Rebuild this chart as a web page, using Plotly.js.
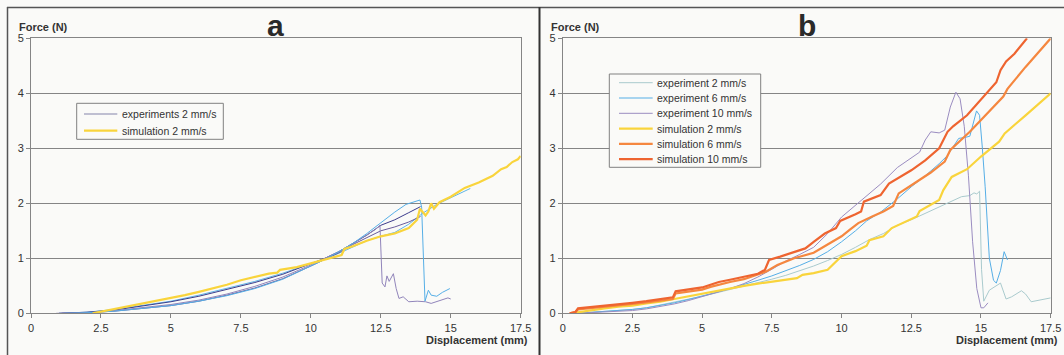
<!DOCTYPE html>
<html><head><meta charset="utf-8">
<script src="https://cdn.plot.ly/plotly-3.0.1.min.js"></script>
<style>html,body{margin:0;padding:0;background:#fafaf8;} #chart{width:1064px;height:355px;}</style>
</head><body><div id="chart"></div>
<script>
// ---------- tick labels ----------
const xTickVals = [0, 2.5, 5, 7.5, 10, 12.5, 15, 17.5];
const xTickText = ['0', '2.5', '5', '7.5', '10', '12.5', '15', '17.5'];
const yTickVals = [0, 1, 2, 3, 4, 5];
const yTickText = ['0', '1', '2', '3', '4', '5'];

const panelTitles = ['a', 'b'];
const yTitle = 'Force (N)';
const xTitle = 'Displacement (mm)';

// ---------- panel a ----------
const legendNamesA = ['experiments 2 mm/s', 'simulation 2 mm/s'];

const aExp1X = [1.2, 2.0, 3.0, 4.0, 5.0, 6.0, 7.0, 8.0, 9.0, 10.0, 10.5, 11.0, 11.5, 12.0, 12.5, 12.7, 13.0, 13.4, 13.7, 13.9, 13.96, 14.08, 14.2, 14.3, 14.5, 14.7, 14.97];
const aExp1Y = [0, 0.01, 0.04, 0.09, 0.14, 0.22, 0.32, 0.45, 0.62, 0.86, 0.98, 1.12, 1.27, 1.45, 1.65, 1.72, 1.84, 1.98, 2.02, 2.06, 1.93, 0.22, 0.42, 0.33, 0.31, 0.38, 0.45];

const aExp2X = [1.0, 2.0, 3.0, 4.0, 5.0, 6.0, 7.0, 8.0, 9.0, 10.0, 10.5, 11.0, 11.5, 12.0, 12.5, 13.0, 13.5, 14.0, 14.5, 15.0, 15.3, 15.7];
const aExp2Y = [0, 0.02, 0.07, 0.14, 0.22, 0.33, 0.45, 0.58, 0.73, 0.9, 0.99, 1.09, 1.2, 1.32, 1.4, 1.47, 1.62, 1.82, 1.98, 2.1, 2.16, 2.27];

const aExp3X = [0.9, 2.0, 3.0, 4.0, 5.0, 6.0, 7.0, 8.0, 9.0, 10.0, 10.5, 11.0, 11.5, 12.0, 12.3, 12.47, 12.55, 12.65, 12.72, 12.8, 12.95, 13.05, 13.15, 13.3, 13.5, 13.8, 14.1, 14.3, 14.6, 14.9, 15.0];
const aExp3Y = [0, 0.01, 0.05, 0.1, 0.16, 0.24, 0.35, 0.49, 0.66, 0.88, 1.0, 1.12, 1.27, 1.42, 1.52, 1.6, 0.55, 0.48, 0.68, 0.58, 0.72, 0.45, 0.27, 0.3, 0.21, 0.22, 0.21, 0.18, 0.23, 0.28, 0.26];

const aExp4X = [1.0, 2.0, 3.0, 4.0, 5.0, 6.0, 7.0, 8.0, 9.0, 10.0, 10.5, 11.0, 11.5, 12.0, 12.5, 13.0, 13.5, 13.92];
const aExp4Y = [0, 0.02, 0.06, 0.13, 0.21, 0.31, 0.43, 0.56, 0.71, 0.9, 1.0, 1.12, 1.27, 1.42, 1.6, 1.7, 1.83, 1.94];

const aExp5X = [1.1, 2.0, 3.0, 4.0, 5.0, 6.0, 7.0, 8.0, 9.0, 10.0, 10.5, 11.0, 11.5, 12.0, 12.5, 13.0, 13.5, 13.92];
const aExp5Y = [0, 0.01, 0.04, 0.09, 0.14, 0.22, 0.33, 0.46, 0.63, 0.86, 0.98, 1.1, 1.25, 1.38, 1.5, 1.57, 1.66, 1.76];

const aSimX = [2.2, 2.5, 3.0, 3.5, 4.0, 4.5, 5.0, 5.5, 6.0, 6.5, 7.0, 7.5, 8.0, 8.5, 8.8, 8.9, 9.5, 10.0, 10.5, 11.1, 11.2, 11.5, 12.0, 12.5, 13.0, 13.5, 13.8, 13.9, 14.1, 14.2, 14.3, 14.4, 14.6, 15.0, 15.5, 16.0, 16.5, 16.8, 17.0, 17.2, 17.4, 17.5];
const aSimY = [0, 0.03, 0.08, 0.13, 0.17, 0.22, 0.28, 0.33, 0.39, 0.45, 0.52, 0.6, 0.66, 0.72, 0.74, 0.79, 0.84, 0.91, 0.98, 1.06, 1.17, 1.22, 1.32, 1.4, 1.45, 1.55, 1.7, 1.9, 1.78, 1.85, 2.0, 1.9, 2.02, 2.12, 2.28, 2.38, 2.5, 2.62, 2.66, 2.75, 2.8, 2.86];

// ---------- panel b ----------
const legendNamesB = ['experiment 2 mm/s', 'experiment 6 mm/s', 'experiment 10 mm/s', 'simulation 2 mm/s', 'simulation 6 mm/s', 'simulation 10 mm/s'];

const bExp2X = [0.5, 1.5, 2.5, 3.0, 3.5, 4.0, 4.5, 5.0, 5.5, 6.0, 6.5, 7.0, 7.5, 8.0, 8.5, 9.0, 9.5, 10.0, 10.5, 11.0, 11.5, 12.0, 12.5, 13.0, 13.5, 14.0, 14.3, 14.6, 14.75, 14.85, 14.95, 15.02, 15.1, 15.3, 15.5, 15.7, 15.9, 16.1, 16.45, 16.6, 16.8, 17.1, 17.5];
const bExp2Y = [0, 0.03, 0.07, 0.1, 0.15, 0.2, 0.26, 0.31, 0.37, 0.43, 0.49, 0.55, 0.62, 0.69, 0.77, 0.86, 0.96, 1.07, 1.2, 1.34, 1.45, 1.6, 1.7, 1.82, 1.94, 2.06, 2.12, 2.14, 2.19, 2.17, 2.22, 0.8, 0.22, 0.42, 0.48, 0.55, 0.26, 0.3, 0.41, 0.35, 0.21, 0.24, 0.28];

const bExp6X = [0.5, 1.5, 2.5, 3.0, 3.5, 4.0, 4.5, 5.0, 5.5, 6.0, 6.5, 7.0, 7.5, 8.0, 8.5, 9.0, 9.5, 10.0, 10.5, 10.9, 11.4, 12.0, 12.5, 13.0, 13.5, 13.8, 14.2, 14.45, 14.6, 14.84, 14.95, 15.05, 15.15, 15.3, 15.45, 15.55, 15.7, 15.83, 15.95];
const bExp6Y = [0, 0.03, 0.07, 0.1, 0.14, 0.19, 0.25, 0.31, 0.38, 0.45, 0.52, 0.6, 0.68, 0.77, 0.87, 0.98, 1.12, 1.3, 1.5, 1.68, 1.84, 2.08, 2.3, 2.5, 2.72, 2.87, 3.18, 3.2, 3.22, 3.68, 3.6, 3.0, 2.3, 1.0, 0.6, 0.55, 0.78, 1.12, 0.97];

const bExp10X = [0.5, 1.5, 2.5, 3.0, 3.5, 4.0, 4.5, 5.0, 5.5, 6.0, 6.5, 7.0, 7.5, 8.0, 8.5, 9.0, 9.5, 10.0, 10.7, 11.4, 12.0, 12.5, 12.8, 13.0, 13.2, 13.5, 13.7, 13.9, 14.1, 14.25, 14.4, 14.55, 14.7, 14.85, 15.0, 15.1, 15.25];
const bExp10Y = [0, 0.02, 0.05, 0.08, 0.12, 0.17, 0.23, 0.3, 0.38, 0.45, 0.54, 0.66, 0.8, 0.95, 1.07, 1.2, 1.45, 1.75, 2.05, 2.35, 2.65, 2.82, 2.93, 3.15, 3.3, 3.28, 3.33, 3.75, 4.02, 3.9, 3.4, 2.5, 1.3, 0.45, 0.1, 0.1, 0.19];

const bSim2X = [0.3, 1.0, 1.5, 2.0, 2.5, 3.0, 3.5, 4.0, 4.5, 5.0, 5.5, 6.0, 6.5, 7.0, 7.5, 8.0, 8.4, 8.6, 9.0, 9.5, 9.75, 10.0, 10.5, 10.9, 11.0, 11.5, 11.8, 12.3, 12.7, 12.8, 13.5, 13.65, 13.95, 14.5, 15.0, 15.65, 15.85, 16.6, 17.5];
const bSim2Y = [0, 0.06, 0.09, 0.12, 0.14, 0.18, 0.21, 0.26, 0.31, 0.36, 0.41, 0.46, 0.5, 0.54, 0.58, 0.61, 0.64, 0.7, 0.73, 0.79, 0.92, 1.04, 1.13, 1.23, 1.33, 1.4, 1.55, 1.66, 1.76, 1.86, 2.06, 2.24, 2.48, 2.62, 2.85, 3.12, 3.27, 3.6, 4.0];

const bSim6X = [0.25, 0.45, 0.55, 1.0, 1.5, 2.0, 2.5, 3.0, 3.5, 3.95, 4.05, 4.5, 5.0, 5.3, 5.6, 6.0, 6.5, 7.0, 7.3, 7.7, 8.3, 9.0, 9.6, 10.0, 10.3, 10.6, 11.1, 11.5, 11.85, 12.05, 12.6, 13.2, 13.7, 13.9, 14.6, 15.3, 15.8, 15.95, 16.6, 17.5];
const bSim6Y = [0, 0.02, 0.07, 0.09, 0.12, 0.14, 0.17, 0.2, 0.23, 0.26, 0.36, 0.39, 0.43, 0.48, 0.52, 0.57, 0.62, 0.7, 0.76, 0.88, 1.0, 1.1, 1.28, 1.4, 1.52, 1.64, 1.76, 1.85, 1.95, 2.18, 2.36, 2.56, 2.76, 2.97, 3.3, 3.67, 3.94, 4.08, 4.48, 5.0];

const bSim10X = [0.25, 0.45, 0.55, 1.0, 1.5, 2.0, 2.5, 3.0, 3.5, 3.95, 4.05, 4.5, 5.0, 5.3, 5.6, 6.0, 6.5, 7.0, 7.25, 7.4, 7.8, 8.2, 8.7, 9.0, 9.4, 9.8, 9.95, 10.5, 10.7, 10.8, 11.4, 11.7, 12.0, 12.5, 13.0, 13.5, 13.8, 14.0, 14.5, 15.0, 15.2, 15.55, 15.7, 15.9, 16.2, 16.65];
const bSim10Y = [0, 0.02, 0.09, 0.11, 0.14, 0.16, 0.19, 0.22, 0.26, 0.29, 0.4, 0.43, 0.47, 0.52, 0.57, 0.61, 0.66, 0.72, 0.79, 0.97, 1.03, 1.1, 1.18, 1.3, 1.45, 1.55, 1.68, 1.8, 1.85, 2.03, 2.15, 2.36, 2.45, 2.6, 2.78, 3.0, 3.3, 3.4, 3.6, 3.88, 4.0, 4.2, 4.42, 4.58, 4.72, 5.0];

// ---------- styles ----------
const W = 1064, H = 355;
const px = v => v / W;
const py = v => 1 - v / H;
const FONT = 'Liberation Sans, Arial, sans-serif';

const colA = {exp1: '#55aee6', exp2: '#5fb4e4', exp3: '#9084ba', exp4: '#3c3c8c', exp5: '#6a5c9c', sim: '#f9d43c'};
const colB = ['#a9cacd', '#55aee6', '#9a8cc0', '#f9d43c', '#f5873f', '#ee6430'];

function ln(x, y, color, width, xa, ya) {
  return {x: x, y: y, type: 'scatter', mode: 'lines', xaxis: xa, yaxis: ya,
          line: {color: color, width: width, shape: 'linear'}, hoverinfo: 'skip', showlegend: false};
}

const traces = [
  ln(aExp2X, aExp2Y, colA.exp2, 1, 'x', 'y'),
  ln(aExp5X, aExp5Y, colA.exp5, 1, 'x', 'y'),
  ln(aExp4X, aExp4Y, colA.exp4, 1, 'x', 'y'),
  ln(aExp3X, aExp3Y, colA.exp3, 1, 'x', 'y'),
  ln(aExp1X, aExp1Y, colA.exp1, 1, 'x', 'y'),
  ln(aSimX, aSimY, colA.sim, 2.2, 'x', 'y'),
  ln(bExp2X, bExp2Y, colB[0], 1, 'x2', 'y2'),
  ln(bExp6X, bExp6Y, colB[1], 1, 'x2', 'y2'),
  ln(bExp10X, bExp10Y, colB[2], 1, 'x2', 'y2'),
  ln(bSim2X, bSim2Y, colB[3], 2.2, 'x2', 'y2'),
  ln(bSim6X, bSim6Y, colB[4], 2.2, 'x2', 'y2'),
  ln(bSim10X, bSim10Y, colB[5], 2.2, 'x2', 'y2')
];
traces.forEach((t, i) => { t.name = i < 6 ? (i === 5 ? legendNamesA[1] : legendNamesA[0]) : legendNamesB[i - 6]; });

const gridCol = '#858585';
function xax(dom, anchor) {
  return {domain: dom, anchor: anchor, range: [0, 17.5], tickmode: 'array', tickvals: xTickVals, ticktext: xTickText,
          showgrid: false, zeroline: false, showline: true, linecolor: gridCol, linewidth: 1, mirror: true,
          ticks: 'outside', ticklen: 4, tickcolor: gridCol, tickfont: {family: FONT, size: 11, color: '#333'}, fixedrange: true};
}
function yax(anchor) {
  return {domain: [1 - 313.3 / H, 1 - 38.3 / H], anchor: anchor, range: [0, 5], tickmode: 'array', tickvals: yTickVals, ticktext: yTickText,
          showgrid: true, gridcolor: gridCol, gridwidth: 1, zeroline: false, showline: true, linecolor: gridCol, linewidth: 1, mirror: true,
          ticks: 'outside', ticklen: 4, tickcolor: gridCol, tickfont: {family: FONT, size: 11, color: '#333'}, fixedrange: true};
}

const shapes = [];
const annotations = [];

// panel frames
shapes.push({type: 'line', xref: 'paper', yref: 'paper', x0: px(7.5), x1: px(7.5), y0: py(7), y1: py(355), line: {color: '#555', width: 1.5}});
shapes.push({type: 'line', xref: 'paper', yref: 'paper', x0: px(7), x1: px(1064), y0: py(7.5), y1: py(7.5), line: {color: '#555', width: 1.5}});
shapes.push({type: 'line', xref: 'paper', yref: 'paper', x0: px(539.5), x1: px(539.5), y0: py(7), y1: py(355), line: {color: '#333', width: 2}});

// titles and axis labels
const panelCx = [275.8, 806.7];
const forceX = [16.7, 549];
const dispX = [530, 1060];
for (let i = 0; i < 2; i++) {
  annotations.push({text: '<b>' + panelTitles[i] + '</b>', xref: 'paper', yref: 'paper', x: px(panelCx[i]), y: py(25), xanchor: 'center', yanchor: 'middle', showarrow: false, font: {family: FONT, size: 30, color: '#2a2a2a'}});
  annotations.push({text: '<b>' + yTitle + '</b>', xref: 'paper', yref: 'paper', x: px(forceX[i]), y: py(26.5), xanchor: 'left', yanchor: 'middle', showarrow: false, font: {family: FONT, size: 11, color: '#333'}});
  annotations.push({text: '<b>' + xTitle + '</b>', xref: 'paper', yref: 'paper', x: px(dispX[i]), y: py(339.5), xanchor: 'right', yanchor: 'middle', showarrow: false, font: {family: FONT, size: 11, color: '#333'}});
}

// legends (drawn manually to match the compact original spacing)
function legend(box, rows, lineX0, lineX1, textX, names, colors, widths) {
  shapes.push({type: 'rect', xref: 'paper', yref: 'paper', x0: px(box[0]), x1: px(box[1]), y0: py(box[2]), y1: py(box[3]), line: {color: '#808080', width: 1}, fillcolor: '#fafaf8', layer: 'above'});
  names.forEach((n, i) => {
    shapes.push({type: 'line', xref: 'paper', yref: 'paper', x0: px(lineX0), x1: px(lineX1), y0: py(rows[i]), y1: py(rows[i]), line: {color: colors[i], width: widths[i]}, layer: 'above'});
    annotations.push({text: n, xref: 'paper', yref: 'paper', x: px(textX), y: py(rows[i]), xanchor: 'left', yanchor: 'middle', showarrow: false, font: {family: FONT, size: 10.5, color: '#333'}});
  });
}
legend([76.7, 223.3, 103.3, 139.3], [114, 130.7], 84, 117.3, 119.5, legendNamesA, ['#8484aa', colA.sim], [1, 2.2]);
legend([609.3, 760.7, 74, 167.3], [82.7, 98, 113.3, 128.6, 143.9, 159.2], 619, 652.7, 655, legendNamesB, colB, [1, 1, 1, 2.2, 2.2, 2.2]);

const layout = {
  width: W, height: H, margin: {l: 0, r: 0, t: 0, b: 0, pad: 0},
  paper_bgcolor: '#fafaf8', plot_bgcolor: '#fafaf8', showlegend: false,
  font: {family: FONT, size: 11, color: '#333'},
  xaxis: xax([31 / W, 520.7 / W], 'y'),
  yaxis: yax('x'),
  xaxis2: xax([562.7 / W, 1050.7 / W], 'y2'),
  yaxis2: yax('x2'),
  shapes: shapes, annotations: annotations
};

Plotly.newPlot('chart', traces, layout, {staticPlot: true, displayModeBar: false});
</script></body></html>
